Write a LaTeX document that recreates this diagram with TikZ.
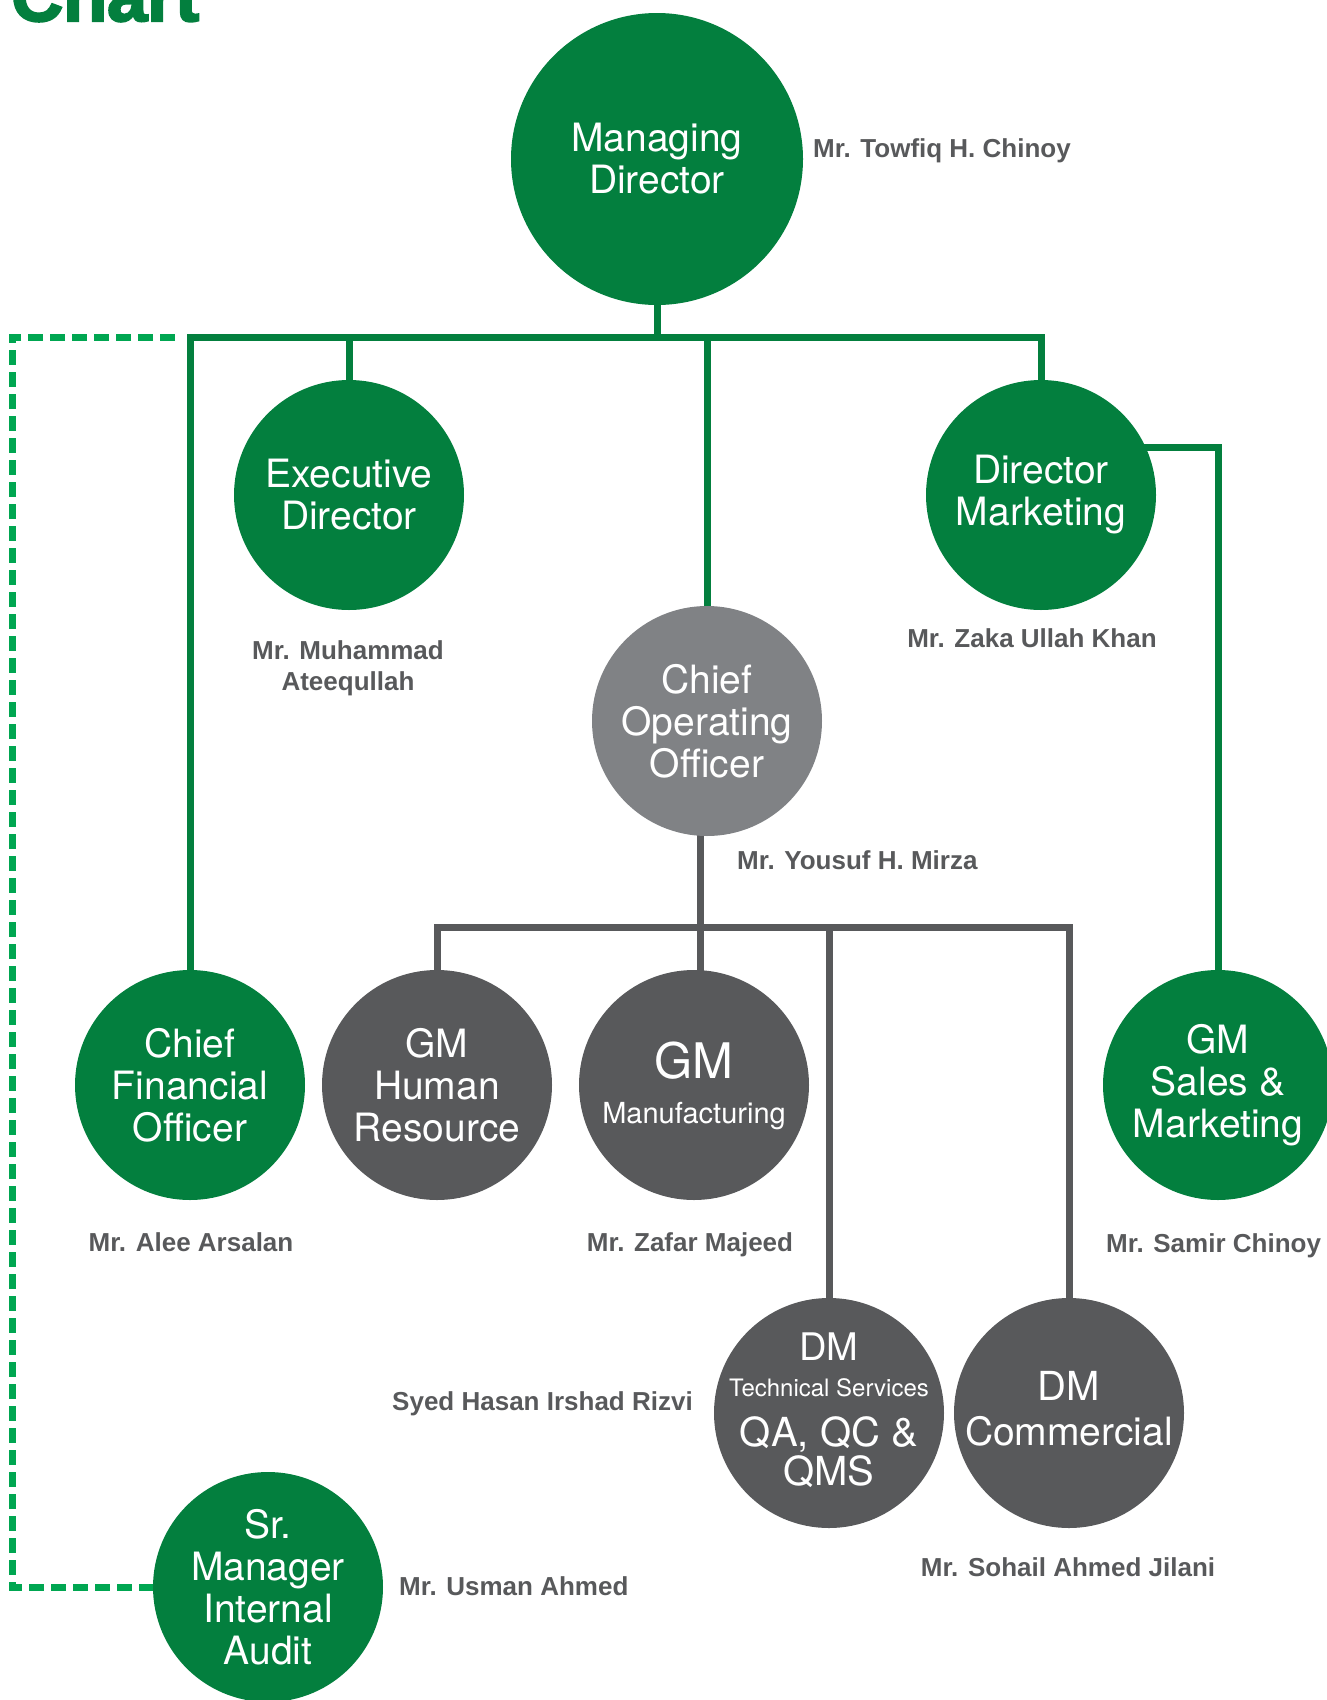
\documentclass[tikz,border=0pt]{standalone}
\usepackage{fontspec}
\usetikzlibrary{backgrounds}
\newfontfamily\thinf{TeX Gyre Heros}
\newfontfamily\namef{Liberation Sans Bold}
\newfontfamily\titlef{Liberation Sans Bold}[FakeBold=3]
\definecolor{dgreen}{HTML}{037F3E}
\definecolor{lgreen}{HTML}{00A651}
\definecolor{dgray}{HTML}{58595B}
\definecolor{mgray}{HTML}{808285}
\newcommand\circtxt{\thinf\fontsize{39}{42}\selectfont}
\newcommand\nmtxt{\namef\fontsize{26}{30}\selectfont}
\tikzset{
  orgcirc/.style={circle, minimum size=230pt, inner sep=0pt, text=white, align=center, font=\circtxt},
  gcirc/.style={orgcirc, fill=dgreen},
  kcirc/.style={orgcirc, fill=dgray},
  ccirc/.style={orgcirc, fill=mgray},
  ctext/.style={anchor=base, inner sep=0pt, text=white},
  gline/.style={draw=dgreen, line width=7pt, line cap=rect},
  kline/.style={draw=dgray, line width=7pt, line cap=rect},
  dline/.style={draw=lgreen, line width=7pt, dash pattern=on 15pt off 7pt},
  nm/.style={text=dgray, font=\nmtxt, inner sep=0pt},
}
\begin{document}
\begin{tikzpicture}[x=1pt,y=-1pt]
\useasboundingbox (0,0) rectangle (1327,1700);
\clip (0,0) rectangle (1327,1700);

% title (cut at top)
\node[anchor=base west, inner sep=0pt, text=dgreen, font=\titlef\fontsize{72}{72}\selectfont] (title) at (11,21) {Chart};

% circles
\node[gcirc, minimum size=292pt] (md) at (657,159) {Managing\\Director};
\node[gcirc] (ed) at (349,495) {Executive\\Director};
\node[gcirc] (dmk) at (1041,495) {Director\\Marketing};
\node[ccirc] (coo) at (707,721) {Chief\\Operating\\Officer};
\node[gcirc] (cfo) at (190,1085) {Chief\\Financial\\Officer};
\node[kcirc] (ghr) at (437,1085) {GM\\Human\\Resource};
\node[kcirc] (gmm) at (694,1085) {};
\node[ctext, font=\thinf\fontsize{49}{49}\selectfont] (gmm1) at (gmm.center |- 0,1078) {GM};
\node[ctext, font=\thinf\fontsize{29}{29}\selectfont] (gmm2) at (gmm.center |- 0,1123) {Manufacturing};
\node[gcirc] (gsm) at (1218,1085) {GM\\Sales \&\\Marketing};
\node[kcirc] (dmt) at (829,1413) {};
\node[ctext, font=\thinf\fontsize{38}{38}\selectfont] (dmt1) at (dmt.center |- 0,1360) {DM};
\node[ctext, font=\thinf\fontsize{24}{24}\selectfont] (dmt2) at (dmt.center |- 0,1396) {Technical Services};
\node[ctext, font=\thinf\fontsize{40}{40}\selectfont] (dmt3) at (dmt.center |- 0,1446) {QA, QC \&};
\node[ctext, font=\thinf\fontsize{40}{40}\selectfont] (dmt4) at (dmt.center |- 0,1485) {QMS};
\node[kcirc] (dmc) at (1069,1413) {};
\node[ctext, font=\thinf\fontsize{40}{40}\selectfont] (dmc1) at (dmc.center |- 0,1400) {DM};
\node[ctext, font=\thinf\fontsize{39}{39}\selectfont] (dmc2) at (dmc.center |- 0,1445) {Commercial};
\node[gcirc] (aud) at (268,1587) {Sr.\\Manager\\Internal\\Audit};

% names
\node[nm, anchor=base west] (ntow) at (813,157) {Mr. Towfiq H. Chinoy};
\node[nm, anchor=base] (nmua1) at (348,659) {Mr. Muhammad};
\node[nm, anchor=base] (nmua2) at (348,690) {Ateequllah};
\node[nm, anchor=base] (nzak) at (1032,647) {Mr. Zaka Ullah Khan};
\node[nm, anchor=base west] (nyou) at (737,869) {Mr. Yousuf H. Mirza};
\node[nm, anchor=base] (nale) at (191,1251) {Mr. Alee Arsalan};
\node[nm, anchor=base] (nzaf) at (690,1251) {Mr. Zafar Majeed};
\node[nm, anchor=base west] (nsam) at (1106,1252) {Mr. Samir Chinoy};
\node[nm, anchor=base east] (nsye) at (693,1410) {Syed Hasan Irshad Rizvi};
\node[nm, anchor=base] (nsoh) at (1068,1576) {Mr. Sohail Ahmed Jilani};
\node[nm, anchor=base west] (nusm) at (399,1595) {Mr. Usman Ahmed};

% junction coordinates
\coordinate (busy) at (0,337);
\coordinate (kbus) at (700,927);
\coordinate (dl) at (12,337);
\coordinate (dlb) at (12,1587);
\coordinate (dstart) at (175,337);
\coordinate (sside) at (1218,447);

\begin{pgfonlayer}{background}
  % green lines
  \draw[gline] (md) -- (md |- busy);
  \draw[gline] (cfo |- busy) -- (dmk |- busy);
  \draw[gline] (cfo |- busy) -- (cfo);
  \draw[gline] (ed |- busy) -- (ed);
  \draw[gline] (coo |- busy) -- (coo);
  \draw[gline] (dmk |- busy) -- (dmk);
  \draw[gline] (dmk |- sside) -- (sside) -- (gsm);
  % gray lines
  \draw[kline] (kbus |- coo) -- (kbus);
  \draw[kline] (ghr |- kbus) -- (dmc |- kbus);
  \draw[kline] (kbus) -- (kbus |- gmm);
  \draw[kline] (ghr |- kbus) -- (ghr);
  \draw[kline] (dmt |- kbus) -- (dmt);
  \draw[kline] (dmc |- kbus) -- (dmc);
  % dashed audit line
  \draw[dline] (dstart) -- (dl) -- (dlb) -- (aud);
\end{pgfonlayer}
\end{tikzpicture}
\end{document}
